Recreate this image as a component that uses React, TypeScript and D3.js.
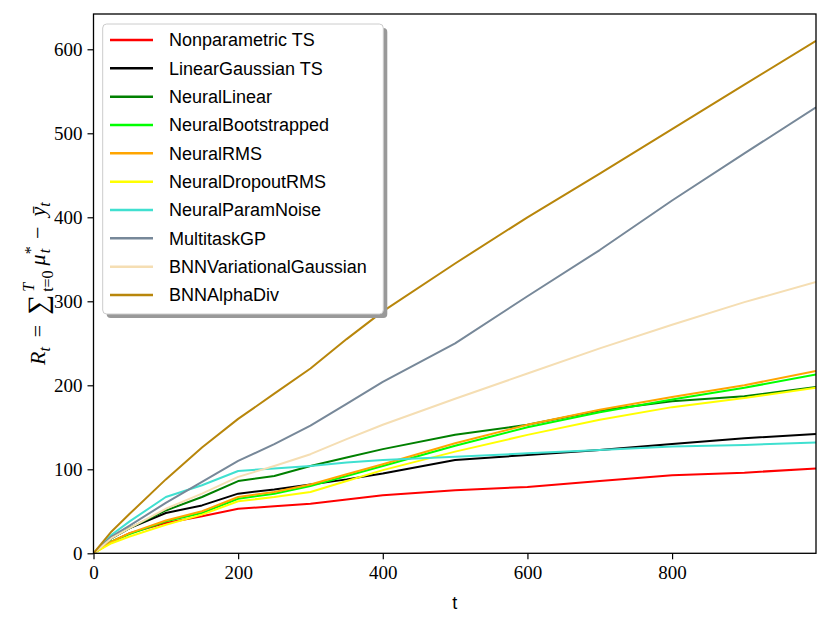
import React, { useRef, useEffect } from 'react';
import * as d3 from 'd3';

const steps = [0, 25, 50, 100, 150, 200, 250, 300, 350, 400, 500, 600, 700, 800, 900, 999];

const seriesNames = [
  'Nonparametric TS',
  'LinearGaussian TS',
  'NeuralLinear',
  'NeuralBootstrapped',
  'NeuralRMS',
  'NeuralDropoutRMS',
  'NeuralParamNoise',
  'MultitaskGP',
  'BNNVariationalGaussian',
  'BNNAlphaDiv',
];

const seriesColors = [
  '#ff0000', '#000000', '#008000', '#00ff00', '#ffa500',
  '#ffff00', '#40e0d0', '#778899', '#f5deb3', '#b8860b',
];

const nonparametric = [0, 14, 24, 36, 44, 53, 56, 59, 64, 69, 75, 79, 86, 93, 96, 101];
const linearGaussian = [0, 18, 30, 48, 57, 71, 76, 82, 88, 95, 111, 117, 123, 130, 137, 142];
const neuralLinear = [0, 18, 30, 51, 67, 86, 92, 104, 114, 124, 141, 153, 170, 181, 187, 198];
const neuralBootstrapped = [0, 14, 23, 38, 48, 65, 71, 80, 92, 104, 128, 150, 168, 183, 197, 213];
const neuralRMS = [0, 14, 24, 39, 50, 67, 73, 82, 94, 106, 131, 153, 171, 186, 200, 217];
const neuralDropoutRMS = [0, 12, 20, 34, 46, 62, 67, 73, 86, 99, 121, 141, 159, 174, 185, 197];
const neuralParamNoise = [0, 22, 38, 67, 81, 98, 101, 104, 108, 111, 115, 119, 123, 127, 129, 132];
const multitaskGP = [0, 20, 33, 60, 85, 110, 130, 152, 178, 204, 250, 306, 361, 420, 476, 531];
const bnnVariational = [0, 18, 30, 53, 71, 91, 104, 118, 136, 153, 184, 214, 244, 272, 299, 323];
const bnnAlphaDiv = [0, 26, 47, 88, 126, 160, 190, 220, 255, 288, 345, 400, 452, 505, 558, 610];

const seriesValues = [
  nonparametric, linearGaussian, neuralLinear, neuralBootstrapped, neuralRMS,
  neuralDropoutRMS, neuralParamNoise, multitaskGP, bnnVariational, bnnAlphaDiv,
];

const xTicks = [0, 200, 400, 600, 800];
const yTicks = [0, 100, 200, 300, 400, 500, 600];

const W = 831;
const H = 626;
const margin = { left: 93.5, right: 15, top: 14, bottom: 72.7 };

// pieces of the y label: text, font size, italic, dx, baseline offset
const yLabelParts: [string, number, boolean, number, number][] = [
  ['R', 22, true, 0, 0],
  ['t', 16, true, 0, 5],
  ['=', 22, false, 10, 0],
  ['∑', 28, false, 10, 2],
  ['T', 16, true, 3, -11],
  ['t=0', 16, false, -9, 8],
  ['μ', 22, true, 5, 0],
  ['*', 16, false, 0, -9],
  ['t', 16, true, -7, 5],
  ['−', 22, false, 10, 0],
  ['ȳ', 22, true, 10, 0],
  ['t', 16, true, 0, 5],
];

const App: React.FC = () => {
  const svgRef = useRef<SVGSVGElement | null>(null);

  useEffect(() => {
    const svg = d3.select(svgRef.current);
    svg.selectAll('*').remove();

    const x = d3.scaleLinear().domain([0, 999]).range([margin.left, W - margin.right]);
    const y = d3.scaleLinear().domain([0, 642]).range([H - margin.bottom, margin.top]);

    svg.append('rect').attr('width', W).attr('height', H).attr('fill', '#fff');

    svg.append('defs').append('clipPath').attr('id', 'plot-clip')
      .append('rect')
      .attr('x', margin.left).attr('y', margin.top)
      .attr('width', W - margin.left - margin.right)
      .attr('height', H - margin.top - margin.bottom);

    const line = d3.line<number>()
      .x((_, i) => x(steps[i]))
      .y(d => y(d));

    const lines = svg.append('g').attr('clip-path', 'url(#plot-clip)');
    seriesValues.forEach((vals, i) => {
      lines.append('path')
        .datum(vals)
        .attr('d', line)
        .attr('fill', 'none')
        .attr('stroke', seriesColors[i])
        .attr('stroke-width', 2)
        .attr('stroke-linejoin', 'round');
    });

    // axes
    const xAxis = d3.axisBottom(x).tickValues(xTicks).tickSize(6).tickPadding(6);
    const yAxis = d3.axisLeft(y).tickValues(yTicks).tickSize(6).tickPadding(5);

    const gx = svg.append('g')
      .attr('transform', `translate(0,${H - margin.bottom})`)
      .call(xAxis);
    const gy = svg.append('g')
      .attr('transform', `translate(${margin.left},0)`)
      .call(yAxis);

    [gx, gy].forEach(g => {
      g.select('.domain').remove();
      g.selectAll('line').attr('stroke', '#000').attr('stroke-width', 1.2);
      g.selectAll('text')
        .attr('fill', '#000')
        .style('font-family', '"Liberation Serif", serif')
        .style('font-size', '19px');
    });
    gy.selectAll('text').attr('dy', '0.35em');

    svg.append('rect')
      .attr('x', margin.left).attr('y', margin.top)
      .attr('width', W - margin.left - margin.right)
      .attr('height', H - margin.top - margin.bottom)
      .attr('fill', 'none')
      .attr('stroke', '#000')
      .attr('stroke-width', 1.3);

    // axis labels
    svg.append('text')
      .attr('x', (margin.left + W - margin.right) / 2)
      .attr('y', 609)
      .attr('text-anchor', 'middle')
      .style('font-family', '"Liberation Sans", sans-serif')
      .style('font-size', '18px')
      .text('t');

    const ylab = svg.append('text')
      .attr('transform', `translate(45,${(margin.top + H - margin.bottom) / 2}) rotate(-90)`)
      .attr('text-anchor', 'middle')
      .style('font-family', '"Liberation Serif", serif');
    let base = 0;
    yLabelParts.forEach(([txt, size, italic, dx, off]) => {
      ylab.append('tspan')
        .attr('font-size', size)
        .attr('font-style', italic ? 'italic' : 'normal')
        .attr('dx', dx)
        .attr('dy', off - base)
        .text(txt);
      base = off;
    });

    // legend
    const lx = 102.7;
    const ly = 24;
    const lw = 280.6;
    const lh = 290;
    const legend = svg.append('g');
    legend.append('rect')
      .attr('x', lx + 4).attr('y', ly + 4)
      .attr('width', lw).attr('height', lh)
      .attr('rx', 4)
      .attr('fill', '#999');
    legend.append('rect')
      .attr('x', lx).attr('y', ly)
      .attr('width', lw).attr('height', lh)
      .attr('rx', 4)
      .attr('fill', '#fff')
      .attr('stroke', '#ccc')
      .attr('stroke-width', 1);
    seriesNames.forEach((name, i) => {
      const cy = 40 + i * 28.33;
      legend.append('line')
        .attr('x1', 110).attr('x2', 153)
        .attr('y1', cy).attr('y2', cy)
        .attr('stroke', seriesColors[i])
        .attr('stroke-width', 2.5);
      legend.append('text')
        .attr('x', 169).attr('y', cy)
        .attr('dy', '0.35em')
        .style('font-family', '"Liberation Sans", sans-serif')
        .style('font-size', '18px')
        .text(name);
    });
  }, []);

  return (
    <svg
      ref={svgRef}
      width={W}
      height={H}
      style={{ position: 'absolute', left: 0, top: 0 }}
    />
  );
};

export default App;
